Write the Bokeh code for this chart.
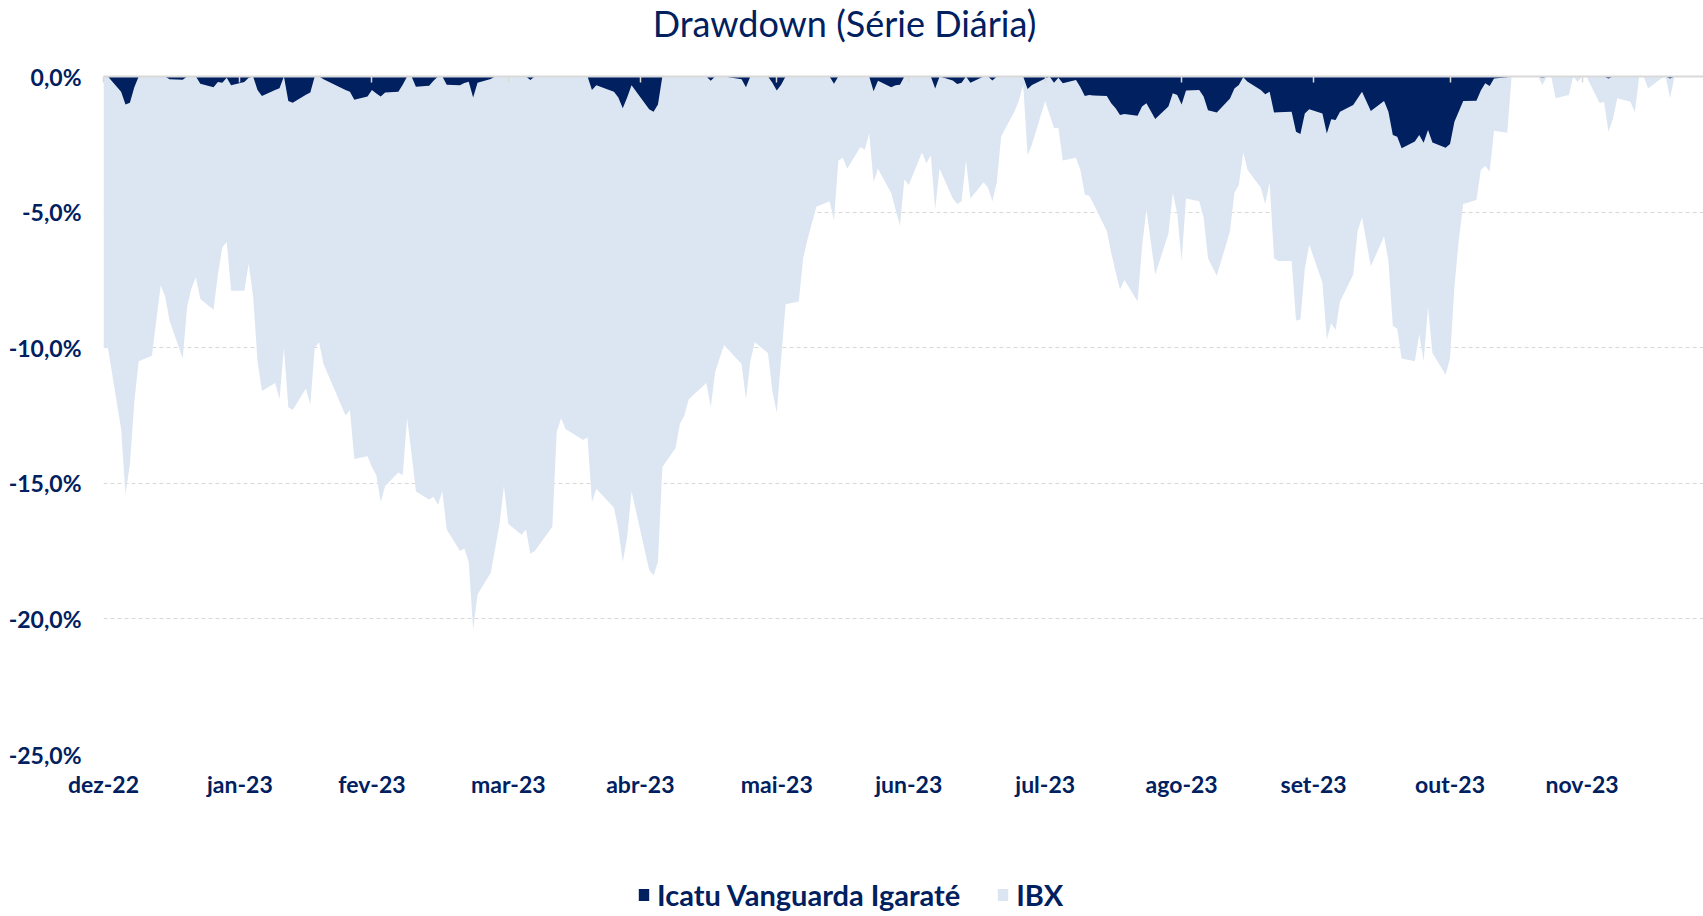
from bokeh.plotting import figure
from bokeh.layouts import column
from bokeh.models import Range1d, FixedTicker, LinearAxis, Legend, LegendItem
from bokeh.core.properties import value
from bokeh.embed import file_html
from bokeh.resources import INLINE

# ---- data (day offset from 1-Dec-2022, drawdown in %) ----
title_text = "Drawdown (Série Diária)"
series_names = ["Icatu Vanguarda Igaraté", "IBX"]
tick_days = [0, 31, 61, 92, 122, 153, 183, 214, 245, 275, 306, 336]
tick_labels = ["dez-22", "jan-23", "fev-23", "mar-23", "abr-23", "mai-23",
               "jun-23", "jul-23", "ago-23", "set-23", "out-23", "nov-23"]
y_ticks = [0, -5, -10, -15, -20, -25]
y_labels = ["0,0%", "-5,0%", "-10,0%", "-15,0%", "-20,0%", "-25,0%"]

ibx_day = [0, 1, 4, 5, 6, 7, 8, 11, 13, 14, 15, 18, 19, 20, 21, 22, 25, 26, 27, 28, 29,
           32, 33, 34, 35, 36, 39, 40, 41, 42, 43, 46, 47, 48, 49, 50, 55, 56, 57, 60, 61,
           62, 63, 64, 67, 68, 69, 70, 71, 74, 75, 76, 77, 78, 81, 82, 83, 84, 85, 88, 89,
           90, 91, 92, 95, 96, 97, 98, 102, 103, 104, 105, 109, 110, 111, 112, 116, 117,
           118, 119, 120, 124, 125, 126, 127, 130, 131, 132, 133, 137, 138, 139, 141, 145,
           146, 147, 148, 151, 152, 153, 155, 158, 159, 160, 162, 165, 166, 167, 168, 169,
           172, 173, 174, 175, 176, 179, 180, 181, 182, 183, 186, 187, 188, 189, 190, 193,
           194, 195, 196, 197, 200, 201, 202, 203, 204, 207, 208, 209, 210, 211, 214, 216,
           217, 218, 221, 222, 223, 224, 225, 228, 229, 230, 231, 232, 235, 236, 237, 239,
           242, 243, 244, 245, 246, 249, 250, 251, 253, 256, 257, 258, 259, 260, 263, 264,
           265, 266, 267, 270, 271, 272, 273, 274, 277, 278, 279, 280, 281, 284, 285, 286,
           288, 291, 292, 293, 294, 295, 298, 299, 300, 301, 302, 305, 306, 307, 308, 309,
           312, 313, 314, 315, 316, 319, 320, 326, 327, 328, 329, 330, 333, 334, 335, 336,
           337, 340, 341, 342, 343, 344, 347, 348, 349, 350, 351, 354, 355, 356, 357]
ibx_dd = [-10.0, -10.0, -13.0, -15.4, -14.3, -12.0, -10.5, -10.3, -7.7, -8.1, -9.0, -10.4,
          -8.5, -7.8, -7.4, -8.2, -8.6, -7.3, -6.3, -6.1, -7.9, -7.9, -6.9, -8.1, -10.5,
          -11.6, -11.3, -11.9, -10.0, -12.2, -12.3, -11.5, -12.1, -10.0, -9.8, -10.6, -12.5,
          -12.3, -14.1, -14.0, -14.4, -14.7, -15.7, -15.1, -14.6, -14.7, -12.6, -13.9, -15.3,
          -15.6, -15.5, -15.8, -15.3, -16.7, -17.5, -17.4, -17.9, -20.4, -19.1, -18.3, -17.4,
          -16.5, -15.1, -16.5, -16.9, -16.7, -17.6, -17.5, -16.6, -13.1, -12.6, -13.0, -13.4,
          -13.3, -15.7, -15.2, -15.9, -16.7, -17.9, -17.0, -15.3, -18.2, -18.4, -17.9, -14.4,
          -13.7, -12.8, -12.5, -11.9, -11.3, -12.2, -10.9, -9.9, -10.6, -11.9, -10.5, -9.8,
          -10.2, -11.6, -12.4, -8.4, -8.3, -6.7, -6.0, -4.8, -4.6, -5.3, -3.1, -3.0, -3.4,
          -2.6, -2.7, -2.1, -3.9, -3.4, -4.3, -4.9, -5.5, -3.8, -4.0, -2.8, -3.2, -2.9, -4.9,
          -3.4, -4.5, -4.7, -4.6, -3.1, -4.5, -3.9, -4.1, -4.6, -3.9, -2.2, -1.3, -0.9, -0.3,
          -2.9, -2.5, -0.9, -1.9, -1.9, -3.1, -3.0, -3.45, -4.35, -4.4, -4.7, -5.7, -6.5,
          -7.2, -7.85, -7.5, -8.3, -6.3, -4.9, -7.3, -5.8, -4.3, -5.05, -6.8, -4.5, -4.6,
          -5.2, -6.7, -7.35, -5.7, -4.3, -4.0, -2.8, -3.45, -4.1, -4.7, -3.9, -6.7, -6.8,
          -6.8, -9.0, -8.96, -7.1, -6.2, -7.6, -9.7, -9.1, -9.35, -8.3, -7.3, -5.7, -5.2,
          -7.0, -5.9, -6.8, -9.2, -9.3, -10.4, -10.5, -9.5, -10.5, -8.5, -10.2, -11.0, -10.4,
          -7.75, -6.0, -4.7, -4.55, -3.45, -3.3, -3.5, -2.0, -2.07, 0.0, 0.0, -0.31, 0.0,
          0.0, -0.8, -0.68, 0.0, -0.2, 0.0, 0.0, -0.99, -0.93, -2.04, -1.58, -0.8, -0.93,
          -1.32, 0.0, 0.0, -0.44, -0.07, 0.0, -0.8, 0.0]

fund_day = [0, 1, 4, 5, 6, 7, 8, 14, 15, 18, 19, 21, 22, 25, 26, 27, 28, 29, 32, 33, 34,
            35, 36, 39, 40, 41, 42, 43, 46, 47, 48, 49, 50, 55, 56, 57, 60, 61, 62, 63, 64,
            67, 68, 69, 70, 71, 74, 75, 76, 77, 78, 81, 82, 83, 84, 85, 88, 89, 96, 97, 98,
            110, 111, 112, 116, 117, 118, 119, 120, 124, 125, 126, 127, 137, 138, 139, 141,
            145, 146, 147, 151, 152, 153, 154, 155, 165, 166, 167, 174, 175, 176, 179, 180,
            181, 182, 188, 189, 190, 193, 194, 195, 196, 197, 200, 201, 202, 203, 209, 210,
            211, 214, 215, 216, 217, 218, 221, 222, 223, 224, 225, 228, 229, 230, 231, 232,
            235, 236, 237, 239, 242, 243, 244, 245, 246, 249, 250, 251, 253, 256, 257, 258,
            259, 260, 263, 264, 265, 266, 267, 270, 271, 272, 273, 274, 277, 278, 279, 280,
            281, 284, 286, 288, 291, 292, 293, 294, 295, 298, 299, 300, 301, 302, 305, 306,
            307, 309, 312, 313, 314, 315, 316, 319, 320, 326, 327, 328, 341, 342, 343, 355,
            356, 357]
fund_dd = [0.0, 0.0, -0.56, -1.03, -0.97, -0.4, 0.0, 0.0, -0.1, -0.12, 0.0, 0.0, -0.27,
           -0.4, -0.2, -0.23, -0.05, -0.32, -0.2, -0.05, 0.0, -0.5, -0.72, -0.5, -0.43, 0.0,
           -0.9, -0.97, -0.67, -0.59, 0.0, 0.0, -0.1, -0.5, -0.56, -0.86, -0.74, -0.5, -0.63,
           -0.74, -0.59, -0.56, -0.3, 0.0, 0.0, -0.38, -0.34, -0.16, 0.0, 0.0, -0.3, -0.32,
           -0.24, -0.19, -0.77, -0.23, -0.09, 0.0, 0.0, -0.13, 0.0, 0.0, -0.5, -0.32, -0.56,
           -0.77, -1.17, -0.77, -0.32, -1.21, -1.3, -1.03, 0.0, 0.0, -0.16, 0.0, 0.0, -0.1,
           -0.4, 0.0, 0.0, -0.23, -0.52, -0.3, 0.0, 0.0, -0.27, 0.0, 0.0, -0.54, -0.16, -0.4,
           -0.32, -0.3, 0.0, 0.0, -0.44, 0.0, -0.15, -0.28, -0.23, 0.0, -0.23, 0.0, 0.0, -0.15,
           0.0, 0.0, -0.46, -0.31, -0.07, 0.0, -0.23, -0.05, -0.25, -0.13, -0.4, -0.72, -0.68,
           -0.7, -0.72, -0.99, -1.17, -1.42, -1.38, -1.45, -1.11, -0.99, -1.57, -1.11, -0.62,
           -0.68, -1.03, -0.52, -0.5, -0.74, -1.24, -1.33, -0.81, -0.44, -0.31, -0.03, -0.19,
           -0.5, -0.65, -0.56, -1.33, -1.32, -1.3, -2.04, -2.12, -1.36, -1.21, -1.36, -2.1,
           -1.58, -1.6, -1.3, -1.05, -0.56, -1.27, -0.9, -1.3, -2.16, -2.22, -2.65, -2.4,
           -2.16, -2.44, -1.97, -2.43, -2.63, -2.49, -1.67, -0.9, -0.89, -0.52, -0.25, -0.35,
           -0.07, -0.03, 0.0, 0.0, -0.05, 0.0, 0.0, -0.07, 0.0, 0.0, -0.07, 0.0]

NAVY = "#002060"
LIGHT = "#dce6f2"
GRID = "#d9d9d9"
FONT = "Lato"
W = 1703
LEFT = 103           # frame left edge (frames of the stacked figures are aligned)
TOP_H, MAIN_H, LEG_H = 46, 826, 44

# ---------------- title strip ----------------
pt = figure(width=W, height=TOP_H, output_backend="svg", toolbar_location=None,
            x_range=Range1d(LEFT, W), y_range=Range1d(0, TOP_H),
            x_axis_type=None, y_axis_type=None, min_border=0)
pt.outline_line_color = None
pt.text(x=[844], y=[TOP_H - 22], text=[title_text], text_font=value(FONT),
        text_font_size="36px", text_font_style="normal", text_color=NAVY,
        text_align="center", text_baseline="middle")

# ---------------- main chart ----------------
p = figure(width=W, height=MAIN_H, output_backend="svg", toolbar_location=None,
           x_range=Range1d(0, 363.6), y_range=Range1d(-25, 0),
           min_border_left=LEFT, min_border_right=0, min_border_top=30,
           min_border_bottom=118, background_fill_color="white",
           border_fill_color="white")
p.outline_line_color = None

r_ibx = p.varea(x=ibx_day, y1=0, y2=ibx_dd, fill_color=LIGHT, fill_alpha=1.0)
r_fund = p.varea(x=fund_day, y1=0, y2=fund_dd, fill_color=NAVY, fill_alpha=1.0)

p.xgrid.visible = False
p.ygrid.ticker = FixedTicker(ticks=y_ticks)
p.ygrid.grid_line_color = GRID
p.ygrid.grid_line_dash = "4 3"
p.ygrid.grid_line_width = 1

xa = p.xaxis[0]
xa.ticker = FixedTicker(ticks=tick_days)
xa.major_label_overrides = {d: t for d, t in zip(tick_days, tick_labels)}
xa.axis_line_color = None
xa.major_tick_line_color = None
xa.minor_tick_line_color = None
xa.major_tick_out = 0
xa.major_label_standoff = 15
xa.major_label_text_font = FONT
xa.major_label_text_font_style = "bold"
xa.major_label_text_font_size = "23px"
xa.major_label_text_color = NAVY

# category axis line at 0% with small tick marks
ta = LinearAxis(ticker=FixedTicker(ticks=tick_days), major_tick_in=6, major_tick_out=0,
                minor_tick_line_color=None, axis_line_color=GRID, axis_line_width=2,
                major_tick_line_color=GRID, major_tick_line_width=1.5,
                major_label_text_font_size="14px", major_label_text_color=None,
                major_label_standoff=0)
p.add_layout(ta, "above")

ya = p.yaxis[0]
ya.ticker = FixedTicker(ticks=y_ticks)
ya.major_label_overrides = {v: t for v, t in zip(y_ticks, y_labels)}
ya.axis_line_color = None
ya.major_tick_line_color = None
ya.minor_tick_line_color = None
ya.major_tick_out = 0
ya.major_label_standoff = 22
ya.major_label_text_font = FONT
ya.major_label_text_font_style = "bold"
ya.major_label_text_font_size = "23px"
ya.major_label_text_color = NAVY

# ---------------- legend strip ----------------
pl = figure(width=W, height=LEG_H, output_backend="svg", toolbar_location=None,
            x_range=Range1d(0, 1), y_range=Range1d(0, 1),
            x_axis_type=None, y_axis_type=None, min_border=0)
pl.outline_line_color = None
l_fund = pl.varea(x=[0, 0], y1=[0, 0], y2=[0, 0], fill_color=NAVY)
l_ibx = pl.varea(x=[0, 0], y1=[0, 0], y2=[0, 0], fill_color=LIGHT)
legend = Legend(items=[LegendItem(label=series_names[0], renderers=[l_fund]),
                       LegendItem(label=series_names[1], renderers=[l_ibx])],
                location=(637 - LEFT, 4), orientation="horizontal",
                background_fill_alpha=0, border_line_color=None,
                label_text_font=FONT, label_text_font_style="bold",
                label_text_font_size="29px", label_text_color=NAVY,
                glyph_width=13, glyph_height=15, label_standoff=7, spacing=36,
                padding=0, margin=0, label_height=15)
pl.add_layout(legend)

layout = column(pt, p, pl, spacing=0)
open("out.html", "w").write(file_html(layout, INLINE))
